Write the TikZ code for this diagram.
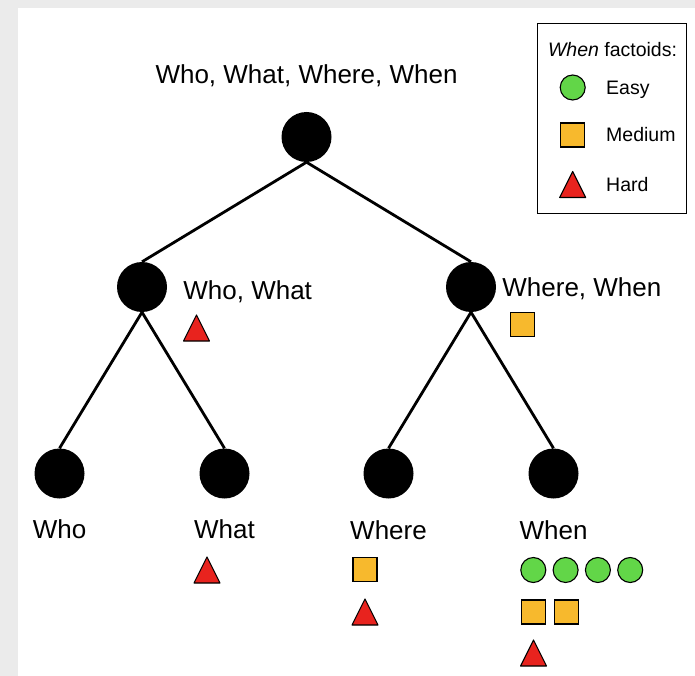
\documentclass[tikz,border=0pt]{standalone}
\usepackage{fontspec}
\setmainfont{Liberation Sans}
\usepackage{xcolor}
\usepackage{tikz}
\usetikzlibrary{positioning, calc}

\definecolor{easygreen}{RGB}{98,214,72}
\definecolor{mediumorange}{RGB}{247,185,45}
\definecolor{hardred}{RGB}{232,35,30}

\begin{document}
\begin{tikzpicture}[
    x=1pt, y=1pt,
    vertex/.style={circle, fill=black, minimum size=50pt, inner sep=0pt},
    edge/.style={line width=2.8pt},
    tag/.style={font=\fontsize{26}{30}\selectfont, inner sep=0pt, text height=19pt, text depth=0pt},
    keytext/.style={font=\fontsize{19.5}{23}\selectfont, inner sep=0pt, text height=14pt, text depth=0pt},
    easy/.style={circle, draw, line width=1.1pt, fill=easygreen, minimum size=25pt, inner sep=0pt},
    medium/.style={rectangle, draw, line width=1.1pt, fill=mediumorange, minimum size=24pt, inner sep=0pt},
    hard/.pic={\draw[line width=1.1pt, fill=hardred, line join=round] (-13,-13) -- (13,-13) -- (0,13) -- cycle;}
]
    % page with the window edge
    \useasboundingbox (0,0) rectangle (695,-676);
    \fill[black!8] (0,0) rectangle (695,-676);
    \fill[white] (18,-8) rectangle (695,-676);

    % Tree
    \node (all) [vertex] at (306.5,-137) {};
    \node (wh-l) [vertex, on grid, below left=150pt and 164.5pt of all] {};
    \node (wh-r) [vertex, on grid, below right=150pt and 164.5pt of all] {};
    \node (who) [vertex, on grid, below left=186.5pt and 82.5pt of wh-l] {};
    \node (what) [vertex, on grid, below right=186.5pt and 82.5pt of wh-l] {};
    \node (where) [vertex, on grid, below left=186.5pt and 82.5pt of wh-r] {};
    \node (when) [vertex, on grid, below right=186.5pt and 82.5pt of wh-r] {};

    \draw [edge] (all.south) -- (wh-l.north);
    \draw [edge] (all.south) -- (wh-r.north);
    \draw [edge] (wh-l.south) -- (who.north);
    \draw [edge] (wh-l.south) -- (what.north);
    \draw [edge] (wh-r.south) -- (where.north);
    \draw [edge] (wh-r.south) -- (when.north);

    % Labels
    \node (all-txt) [tag, on grid, above=63pt of all] {Who, What, Where, When};
    \node (wh-l-txt) [tag, right=16pt of wh-l, yshift=-2.5pt] {Who, What};
    \node (wh-r-txt) [tag, right=6pt of wh-r] {Where, When};
    \node (who-txt) [tag, on grid, below=55pt of who] {Who};
    \node (what-txt) [tag, on grid, below=55pt of what] {What};
    \node (where-txt) [tag, on grid, below=56.5pt of where] {Where};
    \node (when-txt) [tag, on grid, below=56.5pt of when] {When};

    % Factoids
    \pic at (196.5,-328) {hard};
    \node (wh-r-m) [medium] at (522.5,-324.5) {};
    \pic at (207,-570) {hard};
    \node (where-m) [medium] at (365,-569.5) {};
    \pic at (365,-612) {hard};
    \foreach \i in {0,...,3}
        \node (when-e\i) [easy] at (533.3+32.3*\i,-570) {};
    \node (when-m0) [medium] at (533.3,-612) {};
    \node (when-m1) [medium, right=7.7pt of when-m0] {};
    \pic at (533.5,-653) {hard};

    % Key
    \node (key) [draw, line width=1.3pt, minimum width=149pt, minimum height=190pt, inner sep=0pt, anchor=north west] at (537,-23) {};
    \node (key-title) [keytext] at (612.5,-50) {\textit{When} factoids:};
    \node (key-easy) [easy] at (572.7,-87.5) {};
    \node (key-medium) [medium] at (572.7,-135) {};
    \pic at (572.7,-184.5) {hard};
    \node [keytext, anchor=west] at (606,-87.5) {Easy};
    \node [keytext, anchor=west] at (606,-135) {Medium};
    \node [keytext, anchor=west] at (606,-184.5) {Hard};
\end{tikzpicture}
\end{document}
